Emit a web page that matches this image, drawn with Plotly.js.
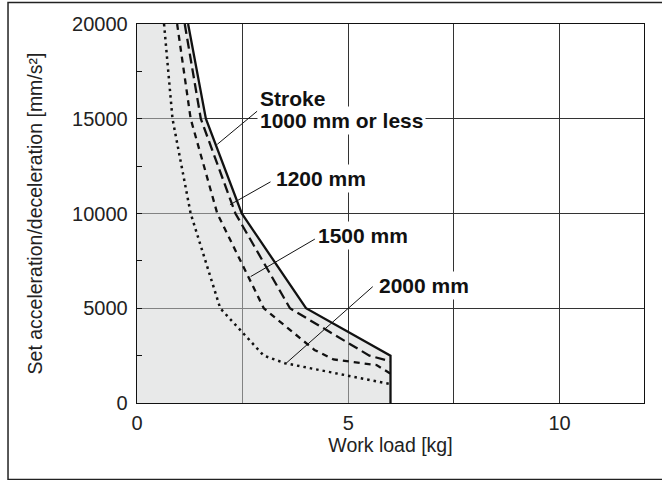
<!DOCTYPE html>
<html>
<head>
<meta charset="utf-8">
<script src="https://cdn.plot.ly/plotly-3.0.1.min.js"></script>
<style>html,body{margin:0;padding:0;background:#fff;}#chart{width:662px;height:480px;}</style>
</head>
<body>
<div id="chart"></div>
<script>
// Stroke 1000 mm or less (solid, boundary of the usable region)
const solidX = [1.21, 1.63, 2.48, 4.0, 6.0, 6.0];
const solidY = [20000, 15000, 10000, 5000, 2500, 0];
// Stroke 1200 mm (long dash)
const s1200X = [1.13, 1.51, 2.33, 3.62, 5.5, 6.0];
const s1200Y = [20000, 15000, 10000, 5000, 2500, 2200];
// Stroke 1500 mm (short dash)
const s1500X = [0.95, 1.27, 1.90, 3.0, 4.2, 4.65, 5.67, 6.0];
const s1500Y = [20000, 15000, 10000, 5000, 2800, 2300, 2000, 1550];
// Stroke 2000 mm (dotted)
const s2000X = [0.64, 0.84, 1.27, 1.97, 3.0, 3.5, 6.0];
const s2000Y = [20000, 15000, 10000, 5000, 2500, 2100, 1000];

const xTitle = 'Work load [kg]';
const yTitle = 'Set acceleration/deceleration [mm/s²]';

const FONT = 'Liberation Sans, Arial, Helvetica, sans-serif';

const traces = [
  {x: solidX, y: solidY, mode: 'lines', fill: 'tozerox',
   fillcolor: 'rgba(209,211,211,0.5)', line: {color: '#111', width: 2.3}, hoverinfo: 'skip'},
  {x: s1200X, y: s1200Y, mode: 'lines', line: {color: '#111', width: 2.3, dash: '10px,5px'}, hoverinfo: 'skip'},
  {x: s1500X, y: s1500Y, mode: 'lines', line: {color: '#111', width: 2.3, dash: '6px,5px'}, hoverinfo: 'skip'},
  {x: s2000X, y: s2000Y, mode: 'lines', line: {color: '#111', width: 2.5, dash: '2.5px,4px'}, hoverinfo: 'skip'}
];

function label(txt, x, y) {
  return {text: '<b>' + txt + '</b>', x: x, y: y, xref: 'x', yref: 'y',
    xanchor: 'left', yanchor: 'middle', showarrow: false, bgcolor: '#fff', borderpad: 2,
    font: {family: FONT, size: 21, color: '#111'}};
}
function pointer(x0, y0, x1, y1) {
  return {type: 'line', xref: 'x', yref: 'y', x0: x0, y0: y0, x1: x1, y1: y1,
    line: {color: '#111', width: 1}};
}

const layout = {
  width: 662, height: 480,
  margin: {l: 137, r: 18, t: 24, b: 77},
  paper_bgcolor: '#fff', plot_bgcolor: '#fff',
  showlegend: false,
  font: {family: FONT, size: 20, color: '#222'},
  xaxis: {
    range: [0, 12], dtick: 5, tick0: 0,
    showgrid: true, gridcolor: '#333', gridwidth: 1,
    minor: {dtick: 2.5, showgrid: true, gridcolor: '#333', gridwidth: 1},
    zeroline: false, showline: true, linecolor: '#111', linewidth: 1.3, mirror: true,
    ticks: '', ticklabelstandoff: 2,
    tickfont: {family: FONT, size: 20, color: '#222'},
    title: {text: xTitle, standoff: 1, font: {family: FONT, size: 19.5, color: '#222'}}
  },
  yaxis: {
    range: [0, 20000], dtick: 5000, tick0: 0, tickformat: 'd',
    showgrid: true, gridcolor: '#333', gridwidth: 1,
    minor: {dtick: 2500, ticks: 'inside', ticklen: 5, tickcolor: '#111', showgrid: false},
    ticks: 'inside', ticklen: 5, tickcolor: '#111',
    zeroline: false, showline: true, linecolor: '#111', linewidth: 1.3, mirror: true,
    ticklabelstandoff: 4,
    tickfont: {family: FONT, size: 20, color: '#222'},
    title: {text: yTitle, standoff: 24, font: {family: FONT, size: 19.5, color: '#222'}}
  },
  annotations: [
    label('Stroke', 2.84, 16080),
    label('1000 mm or less', 2.84, 14890),
    label('1200 mm', 3.23, 11850),
    label('1500 mm', 4.22, 8840),
    label('2000 mm', 5.66, 6200)
  ],
  shapes: [
    pointer(2.85, 15410, 1.90, 13650),
    pointer(3.16, 11670, 2.20, 10460),
    pointer(4.21, 8650, 2.69, 6670),
    pointer(5.58, 6140, 3.54, 2120),
    {type: 'rect', xref: 'paper', yref: 'paper', x0: -0.2544, x1: 1.2, y0: -0.2017, y1: 1.0568,
     line: {color: '#222', width: 1.5}, fillcolor: 'rgba(0,0,0,0)', layer: 'above'}
  ]
};

Plotly.newPlot('chart', traces, layout, {displayModeBar: false, staticPlot: true});
</script>
</body>
</html>
